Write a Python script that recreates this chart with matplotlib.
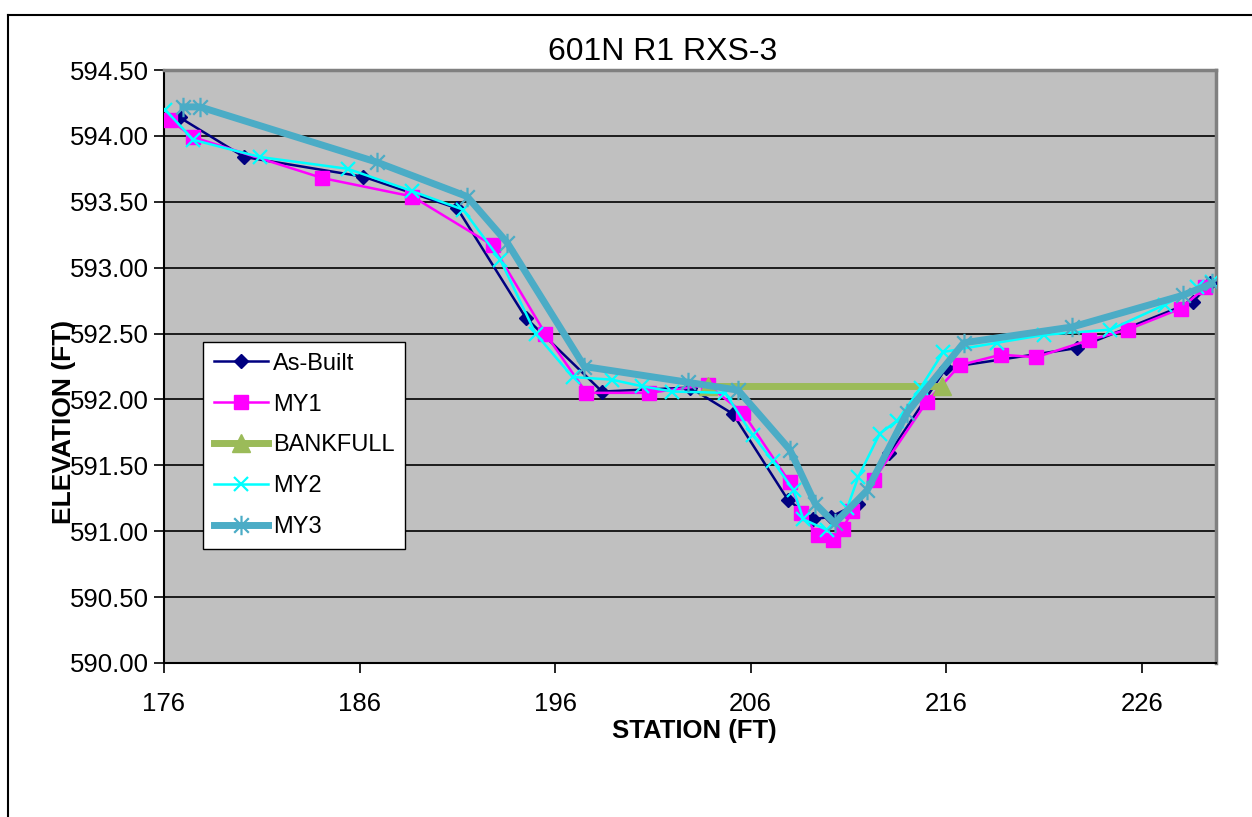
import matplotlib
matplotlib.use("Agg")
import matplotlib.pyplot as plt
from matplotlib.lines import Line2D
from matplotlib.path import Path

plt.rcParams['font.family'] = ['Liberation Sans', 'DejaVu Sans']

title = "601N R1 RXS-3"
x_label = "STATION (FT)"
y_label = "ELEVATION (FT)"
x_ticks = [176, 186, 196, 206, 216, 226]
y_ticks = [590.0, 590.5, 591.0, 591.5, 592.0, 592.5, 593.0, 593.5, 594.0, 594.5]

asbuilt_x = [176.8, 180.1, 186.2, 191.0, 194.5, 198.4, 202.9, 205.1, 207.9, 209.2,
             210.1, 211.5, 213.1, 216.0, 222.7, 228.6, 229.5]
asbuilt_y = [594.14, 593.84, 593.69, 593.45, 592.62, 592.06, 592.09, 591.89, 591.24, 591.09,
             591.11, 591.21, 591.59, 592.24, 592.39, 592.74, 592.88]

my1_x = [176.3, 177.5, 184.1, 188.7, 192.8, 195.5, 197.6, 200.8, 203.8, 205.6,
         208.0, 208.6, 209.45, 210.2, 210.7, 211.2, 212.3, 215.0, 216.7, 218.8,
         220.6, 223.3, 225.3, 228.0, 229.25]
my1_y = [594.12, 593.99, 593.68, 593.54, 593.17, 592.50, 592.05, 592.05, 592.11, 591.90,
         591.37, 591.14, 590.97, 590.93, 591.02, 591.15, 591.39, 591.98, 592.26, 592.34,
         592.32, 592.45, 592.53, 592.69, 592.85]

bankfull_x = [203.8, 215.8]
bankfull_y = [592.10, 592.10]

my2_x = [176.05, 177.5, 180.9, 185.4, 188.7, 191.3, 193.2, 195.0, 196.9, 198.9,
         200.45, 202.0, 204.7, 206.1, 207.15, 208.2, 208.7, 209.9, 210.95, 211.5,
         212.6, 213.5, 214.7, 215.85, 218.6, 221.0, 224.4, 227.2, 228.85, 229.6]
my2_y = [594.20, 593.97, 593.84, 593.75, 593.58, 593.44, 593.06, 592.50, 592.17, 592.15,
         592.10, 592.06, 592.05, 591.73, 591.53, 591.31, 591.09, 591.01, 591.18, 591.41,
         591.74, 591.84, 592.09, 592.36, 592.43, 592.49, 592.53, 592.72, 592.85, 592.89]

my3_x = [176.97, 177.84, 186.9, 191.5, 193.55, 197.5, 202.8, 205.36, 208.0, 209.3,
         210.3, 211.96, 214.0, 216.9, 222.45, 228.1, 229.6]
my3_y = [594.22, 594.22, 593.80, 593.54, 593.19, 592.25, 592.13, 592.07, 591.62, 591.21,
         591.06, 591.31, 591.90, 592.43, 592.55, 592.79, 592.88]

# Excel-style asterisk marker (x plus vertical bar)
ast = Path([(0, -1), (0, 1), (-0.75, -0.75), (0.75, 0.75), (-0.75, 0.75), (0.75, -0.75)],
           [Path.MOVETO, Path.LINETO, Path.MOVETO, Path.LINETO, Path.MOVETO, Path.LINETO])

W, H = 1252, 817
fig = plt.figure(figsize=(W / 100, H / 100), dpi=100)
fig.patch.set_facecolor('white')

ax = fig.add_axes([164 / W, 1 - 663 / H, (1216 - 164) / W, (663 - 70) / H])
ax.set_facecolor('#C0C0C0')

ax.plot(asbuilt_x, asbuilt_y, color='#000080', lw=1.8, marker='D', ms=7,
        mfc='#000080', mec='#000080', label='As-Built', zorder=3)
ax.plot(my1_x, my1_y, color='#FF00FF', lw=1.8, marker='s', ms=10,
        mfc='#FF00FF', mec='#FF00FF', label='MY1', zorder=4)
ax.plot(bankfull_x, bankfull_y, color='#9BBB59', lw=5, marker='^', ms=13,
        mfc='#9BBB59', mec='#9BBB59', label='BANKFULL', zorder=5)
ax.plot(my2_x, my2_y, color='#00FFFF', lw=1.8, marker='x', ms=10, mew=1.6,
        mec='#00FFFF', label='MY2', zorder=6)
ax.plot(my3_x, my3_y, color='#4BACC6', lw=5, marker=ast, ms=14, mew=1.6,
        mec='#4BACC6', label='MY3', zorder=7)

ax.set_xlim(176, 229.8)
ax.set_ylim(590.0, 594.5)
ax.set_xticks(x_ticks)
ax.set_xticklabels([str(v) for v in x_ticks])
ax.set_yticks(y_ticks)
ax.set_yticklabels([f"{v:.2f}" for v in y_ticks])
ax.yaxis.grid(True, color='black', lw=1.2)
ax.set_axisbelow(True)

ax.tick_params(axis='both', which='major', labelsize=18.5, direction='out',
               length=7, width=1.2, color='black')
ax.tick_params(axis='x', pad=14)
ax.tick_params(axis='y', pad=4)

for side in ['top', 'right']:
    ax.spines[side].set_color('#808080')
    ax.spines[side].set_linewidth(2.5)
ax.spines['left'].set_color('black')
ax.spines['left'].set_linewidth(1.5)
ax.spines['bottom'].set_color('black')
ax.spines['bottom'].set_linewidth(1.5)

fig.text(663 / W, 1 - 52 / H, title, ha='center', va='center', fontsize=23)
fig.text(694 / W, 1 - 731 / H, x_label, ha='center', va='center', fontsize=18.5,
         fontweight='bold')
fig.text(64 / W, 1 - 422 / H, y_label, ha='center', va='center', fontsize=19,
         fontweight='bold', rotation=90, zorder=10)

leg = ax.legend(loc='upper left', bbox_to_anchor=(203 / W, 1 - 342 / H),
                bbox_transform=fig.transFigure, fontsize=17, frameon=True,
                fancybox=False, edgecolor='black', facecolor='white', framealpha=1,
                handlelength=2.3, handletextpad=0.2, labelspacing=0.8,
                borderpad=0.45, borderaxespad=0)
leg.get_frame().set_linewidth(1.0)

# outer chart border
fig.add_artist(Line2D([8 / W, 8 / W], [0, 1 - 15 / H], transform=fig.transFigure,
                      color='black', lw=1.5))
fig.add_artist(Line2D([8 / W, 1.0], [1 - 15 / H, 1 - 15 / H], transform=fig.transFigure,
                      color='black', lw=1.5))

fig.savefig('out.png', dpi=100)
